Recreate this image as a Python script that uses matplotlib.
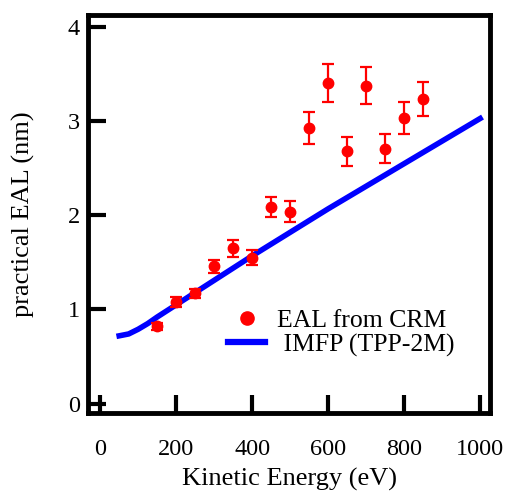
import matplotlib
matplotlib.use('Agg')
import matplotlib.pyplot as plt
from matplotlib.lines import Line2D

plt.rcParams['font.family'] = ['Liberation Serif', 'DejaVu Serif']
plt.rcParams['font.size'] = 16

# EAL from CRM (measured points with error bars)
eal_energy = [150, 200, 250, 300, 350, 400, 450, 500, 550, 600, 650, 700, 750, 800, 850]
eal_value = [0.82, 1.08, 1.17, 1.46, 1.65, 1.55, 2.09, 2.04, 2.93, 3.41, 2.68, 3.38, 2.71, 3.03, 3.24]
eal_err = [0.04, 0.05, 0.05, 0.07, 0.09, 0.08, 0.11, 0.11, 0.17, 0.20, 0.15, 0.20, 0.15, 0.17, 0.18]

# IMFP (TPP-2M) curve
imfp_energy = [50, 75, 100, 125, 150, 200, 300, 400, 500, 600, 700, 800, 900, 1000]
imfp_value = [0.72, 0.74, 0.79, 0.85, 0.92, 1.05, 1.31, 1.57, 1.82, 2.07, 2.31, 2.55, 2.79, 3.03]

xticks = [0, 200, 400, 600, 800, 1000]
yticks = [0, 1, 2, 3, 4]

red = '#ff0000'
blue = '#0000ff'

fig = plt.figure(figsize=(5.07, 4.93), dpi=100)
ax = fig.add_axes([0.1736, 0.1623, 0.7929, 0.8073])

ax.errorbar(eal_energy, eal_value, yerr=eal_err, fmt='o', color=red,
            markersize=7.5, elinewidth=1.6, capsize=4, capthick=1.6, zorder=3)
ax.plot(imfp_energy, imfp_value, color=blue, linewidth=4, zorder=2)

ax.set_xlim(-32, 1026)
ax.set_ylim(-0.10, 4.13)
ax.set_xticks(xticks)
ax.set_yticks(yticks)

for s in ax.spines.values():
    s.set_linewidth(3.5)
ax.tick_params(axis='both', direction='in', length=13, width=3, labelsize=17.5)
ax.tick_params(axis='x', pad=19)
ax.tick_params(axis='y', pad=6)

ax.set_xlabel('Kinetic Energy (eV)', fontsize=19)
ax.set_ylabel('practical EAL (nm)', fontsize=19)
ax.yaxis.set_label_coords(-0.132, 0.5)
ax.xaxis.set_label_coords(0.5, -0.138)

handles = [Line2D([], [], marker='o', linestyle='none', color=red, markersize=9.5),
           Line2D([], [], color=blue, linewidth=4.5)]
labels = ['EAL from CRM', ' IMFP (TPP-2M)']
ax.legend(handles, labels, loc='upper left', bbox_to_anchor=(0.316, 0.293),
          frameon=False, borderpad=0, handlelength=1.45, handletextpad=0.47,
          labelspacing=0.05, fontsize=18.5)

fig.savefig('out.png', dpi=100)
